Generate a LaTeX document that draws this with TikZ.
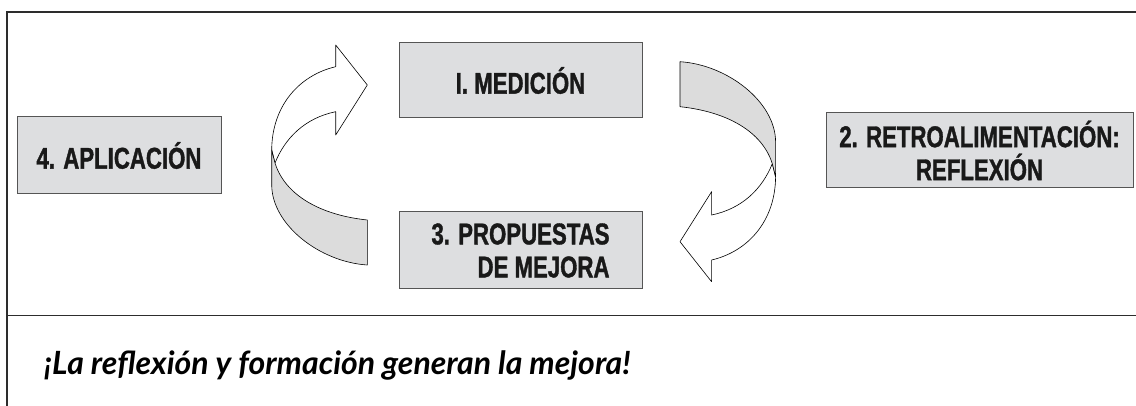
\documentclass[tikz,border=0pt]{standalone}
\usepackage{fontspec}
\newfontfamily\stagefont[FakeStretch=0.74, FakeBold=1.2]{Liberation Sans}
\newfontfamily\mottofont{Lato}

\definecolor{boxfill}{RGB}{221,222,224}
\definecolor{boxline}{RGB}{85,85,85}
\definecolor{bandfill}{RGB}{220,220,220}
\definecolor{frameline}{RGB}{45,45,45}

\tikzset{
	stage/.style={draw=boxline, line width=1pt, fill=boxfill, inner sep=0pt,
		minimum width=243pt, minimum height=75pt, text=black!90,
		font=\stagefont\bfseries\fontsize{30}{33}\selectfont},
	band/.style={draw=black, line width=0.6pt, line join=round},
	% curved arrow, origin at its tip
	twist/.pic={
		\filldraw[band, fill=white] (-31.6,-18.3) -- (-31.6,-40) -- (0,0) -- (-31.6,50) -- (-31.6,26.7)
			.. controls (-62.3,33) and (-82.3,53) .. (-92.3,78) -- (-95.6,65)
			.. controls (-95.3,20) and (-67.3,-10) .. (-31.6,-18.3) -- cycle;
		\filldraw[band, fill=bandfill] (-95.6,65) -- (-95.6,100)
			.. controls (-95.3,140) and (-47.3,177) .. (0,180) -- (0,135)
			.. controls (-47.3,130) and (-82.3,110) .. (-92.3,78) -- cycle;
	}
}

\begin{document}
\begin{tikzpicture}[x=1pt, y=-1pt]
	\useasboundingbox (0,0) rectangle (1136,406);

	% frame
	\draw[frameline, line width=2.2pt] (7,406) -- (7,12) -- (1136,12);
	\draw[frameline, line width=1pt] (7,316) -- (1136,316);

	% stages
	\node[stage] (med) at (520.5,80.5) {I. MEDICIÓN};
	\node[stage, minimum height=77pt, align=right] (prop) at (520.5,250.5) {3. PROPUESTAS\\DE MEJORA};
	\node[stage, minimum width=204pt, minimum height=77pt] (apl) at (119,155.5) {4. APLICACIÓN};
	\node[stage, minimum width=307pt, align=center] (retro) at (979.5,150.5) {2. RETROALIMENTACIÓN:\\REFLEXIÓN};

	% cycle arrows
	\coordinate (tipL) at (367.3,85);
	\coordinate (tipR) at (680,241.7);
	\pic at (tipL) {twist};
	\pic[rotate=180] at (tipR) {twist};

	\node[anchor=base west, inner sep=0pt, font=\mottofont\bfseries\itshape\fontsize{32}{36}\selectfont] (motto) at (44,374) {¡La reflexión y formación generan la mejora!};
\end{tikzpicture}
\end{document}
